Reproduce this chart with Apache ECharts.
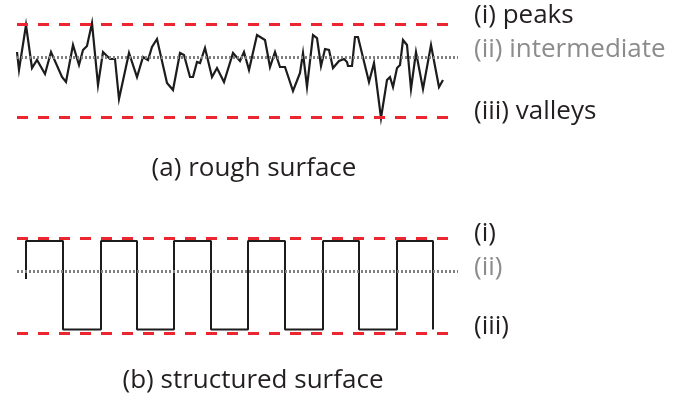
<!DOCTYPE html>
<html><head><meta charset="utf-8">
<script src="https://cdn.jsdelivr.net/npm/echarts@6/dist/echarts.min.js"></script>
<style>html,body{margin:0;padding:0;background:#fff}#c{width:675px;height:405px}</style>
</head><body><div id="c"></div>
<script>
// (a) rough surface profile: position along surface, height above valley level
const roughX = [0,2,9,15,20,28,34,45,49,56,62,66,70,75,81,86,93,98,102,112,120,126,131,135,140,150,156,163,167,173,176,180,183,188,195,200,207,216,223,227,232,240,248,253,258,263,268,276,283,286,290,296,300,304,308,312,316,322,327,330,331,335,338,341,352,357,364,370,373,376,380,383,386,390,394,399,406,414,422,426];
const roughH = [65,47,92,49,57,43,65,40,35,72,52,67,71,94,32,65,58,58,18,64,40,60,57,70,78,34,27,64,62,40,40,55,54,69,40,49,35,64,56,65,47,82,77,50,65,50,50,26,44,64,30,82,79,51,68,67,49,56,58,55,51,51,80,80,35,54,-1,37,40,30,49,52,77,72,28,65,28,72,30,37];
const roughLevels = {peaks: 93, intermediate: 59.5, valleys: 0};
// (b) structured surface: square wave edges
const riseX = [9,84,157,231,306,380];
const fallX = [46,120,194,268,342,416];
const structHigh = 92, structLow = 3.5, structStart = 54;
const structLevels = {peaks: 94.7, intermediate: 62, valleys: 0};
const labelsA = ['(i) peaks','(ii) intermediate','(iii) valleys'];
const labelsB = ['(i)','(ii)','(iii)'];
const titleA = '(a) rough surface', titleB = '(b) structured surface';

const rough = roughX.map((x,i)=>[x,roughH[i]]);
const square = [[riseX[0], structStart]];
riseX.forEach((r,i)=>{
  square.push([r,structHigh],[fallX[i],structHigh],[fallX[i],structLow]);
  if (i+1<riseX.length) square.push([riseX[i+1],structLow]);
});

const RED='#ec2631', GRAY='#808080', INK='#231f20', FONT='"Open Sans", sans-serif';
function levelLines(lv){
  return {silent:true, symbol:'none', label:{show:false}, data:[
    {yAxis:lv.peaks, lineStyle:{color:RED,width:3,type:[11,10]}},
    {yAxis:lv.intermediate, lineStyle:{color:GRAY,width:3,type:[2,2]}},
    {yAxis:lv.valleys, lineStyle:{color:RED,width:3,type:[11,10]}}
  ]};
}
const hiddenAxis = (gi,min,max)=>({type:'value',gridIndex:gi,min,max,show:false,splitLine:{show:false}});
const chart = echarts.init(document.getElementById('c'),null,{renderer:'canvas'});
function txt(x,y,t,color,align){return {type:'text',x,y,style:{text:t,fill:color,font:'26px '+FONT,textAlign:align||'left',textVerticalAlign:'middle'}};}
chart.setOption({
  animation:false,
  grid:[{left:17,width:441,top:7,height:120},{left:17,width:441,top:223,height:120}],
  xAxis:[hiddenAxis(0,0,441),hiddenAxis(1,0,441)],
  yAxis:[hiddenAxis(0,-10,110),hiddenAxis(1,-10,110)],
  series:[
    {type:'line',xAxisIndex:0,yAxisIndex:0,data:rough,symbol:'none',z:3,
     lineStyle:{color:'#1c1c1c',width:2.2,join:'miter'},markLine:levelLines(roughLevels)},
    {type:'line',xAxisIndex:1,yAxisIndex:1,data:square,symbol:'none',z:3,
     lineStyle:{color:'#1c1c1c',width:2},markLine:levelLines(structLevels)}
  ],
  graphic:[
    txt(474,16,labelsA[0],INK), txt(474,50,labelsA[1],'#8c8c8c'), txt(474,112,labelsA[2],INK),
    txt(474,234,labelsB[0],INK), txt(474,268,labelsB[1],'#8c8c8c'), txt(474,327,labelsB[2],INK),
    txt(254,169,titleA,INK,'center'), txt(253,381,titleB,INK,'center')
  ]
});
</script></body></html>
